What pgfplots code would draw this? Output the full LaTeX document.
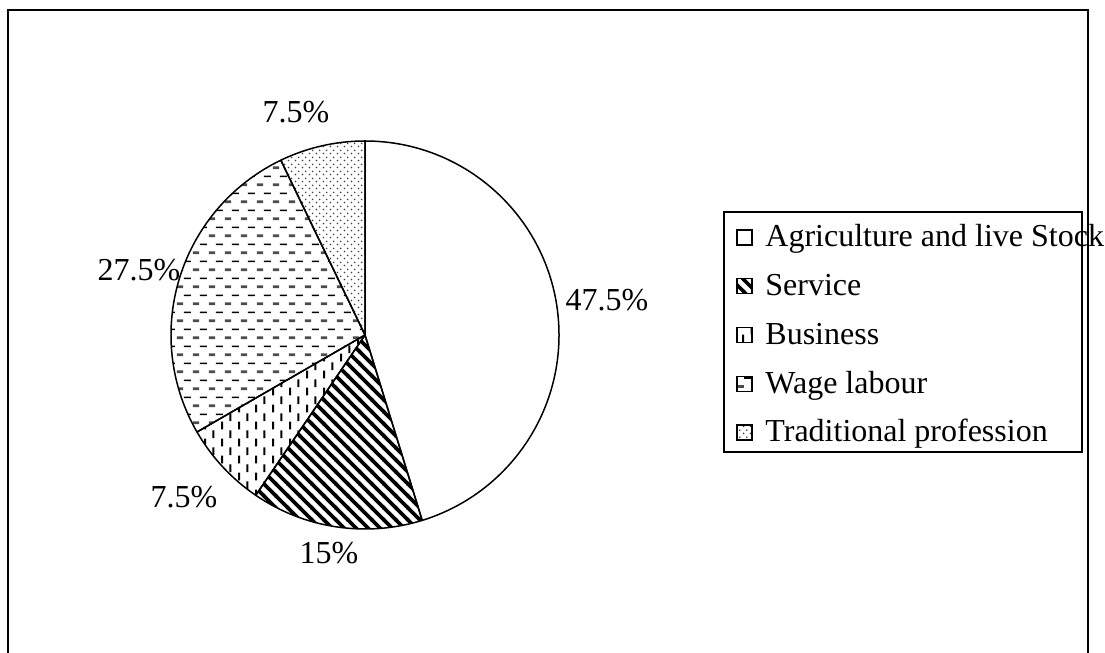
\documentclass[border=0pt]{standalone}
\usepackage{pgfplots}
\pgfplotsset{compat=1.18}
\usepackage{pgfplotstable}
\usetikzlibrary{patterns,patterns.meta}
\usepackage{fontspec}
\setmainfont{Liberation Serif}

% Patterns
\tikzdeclarepattern{name=svc, type=colored, bottom left={(-1bp,-1bp)}, top right={(7bp,7bp)}, tile size={(6bp,6bp)},
  code={\draw[line width=1.8bp,black] (-1bp,7bp) -- (7bp,-1bp);}}
\tikzdeclarepattern{name=bus, type=colored, bottom left={(0bp,0bp)}, top right={(8.4bp,8.6bp)}, tile size={(8.4bp,8.6bp)},
  code={\draw[line width=1bp,black] (2.1bp,0.3bp) -- (2.1bp,4.3bp);
        \draw[line width=1bp,black] (6.3bp,4.6bp) -- (6.3bp,8.6bp);}}
\tikzdeclarepattern{name=wag, type=colored, bottom left={(0bp,0bp)}, top right={(8bp,8.7bp)}, tile size={(8bp,8.7bp)},
  code={\draw[line width=1.4bp,black!70] (0.4bp,2.2bp) -- (3.8bp,2.2bp);
        \draw[line width=0.7bp,black] (4.2bp,6.55bp) -- (7.9bp,6.55bp);}}
\tikzdeclarepattern{name=dts, type=colored, bottom left={(0bp,0bp)}, top right={(3.5bp,3.5bp)}, tile size={(3.5bp,3.5bp)},
  code={\fill[black!75] (0.875bp,0.875bp) circle[radius=0.5bp];
        \fill[black!75] (2.625bp,2.625bp) circle[radius=0.5bp];}}

\tikzset{
  s0/.style={fill=white},
  s1/.style={pattern=svc},
  s2/.style={pattern=bus},
  s3/.style={pattern=wag},
  s4/.style={pattern=dts},
  lab/.style={font=\fontsize{16bp}{19bp}\selectfont, inner sep=0pt},
}

% value = share in percent; lx, ly = position of its percentage label (pixels, y down)
\pgfplotstableread{
value lx ly
47.5 607 300
15   329 553
7.5  184 497
27.5 139 270
7.5  296 112
}\piedata

\def\pietotal{0}
\pgfplotsforeachungrouped \i in {0,...,4}{%
  \pgfplotstablegetelem{\i}{value}\of\piedata
  \pgfmathsetmacro\pietotal{\pietotal+\pgfplotsretval}%
  \xdef\pietotal{\pietotal}%
}
\def\piecum{0}
\pgfplotsforeachungrouped \i in {0,...,4}{%
  \pgfplotstablegetelem{\i}{value}\of\piedata
  \pgfmathsetmacro\sa{90-\piecum/\pietotal*360}%
  \pgfmathsetmacro\piecum{\piecum+\pgfplotsretval}%
  \xdef\piecum{\piecum}%
  \pgfmathsetmacro\ea{90-\piecum/\pietotal*360}%
  \expandafter\xdef\csname piesa\i\endcsname{\sa}%
  \expandafter\xdef\csname pieea\i\endcsname{\ea}%
  \pgfplotstablegetelem{\i}{value}\of\piedata
  \expandafter\xdef\csname pieval\i\endcsname{\pgfplotsretval}%
  \pgfplotstablegetelem{\i}{lx}\of\piedata
  \expandafter\xdef\csname pielx\i\endcsname{\pgfplotsretval}%
  \pgfplotstablegetelem{\i}{ly}\of\piedata
  \pgfmathsetmacro\tmp{652-\pgfplotsretval}%
  \expandafter\xdef\csname piely\i\endcsname{\tmp}%
}

\begin{document}
\begin{tikzpicture}
\begin{axis}[x=0.5bp, y=0.5bp, xmin=0, xmax=1105, ymin=0, ymax=652,
  hide axis, clip=false]
  % outer frame (open at bottom)
  \draw[line width=1bp] (axis cs:7.5,-10) -- (axis cs:7.5,641.5) -- (axis cs:1088,641.5) -- (axis cs:1088,-10);
  % pie slices
  \pgfplotsinvokeforeach{0,...,4}{
    \edef\temp{\noexpand\filldraw[s#1, draw=black, line width=0.75bp, line join=round]
      (axis cs:365,317) -- ++(\csname piesa#1\endcsname:97bp)
      arc[start angle=\csname piesa#1\endcsname, end angle=\csname pieea#1\endcsname, radius=97bp] -- cycle;}
    \temp
    \edef\temp{\noexpand\node[lab] at (axis cs:\csname pielx#1\endcsname,\csname piely#1\endcsname)
      {\noexpand\pgfmathprintnumber[fixed,precision=1,assume math mode=true]{\csname pieval#1\endcsname}\noexpand\%};}
    \temp
  }
  % legend
  \draw[line width=0.75bp] (axis cs:724,440) rectangle (axis cs:1082,200);
  \node[lab, anchor=base west] at (axis cs:765,405) {Agriculture and live Stock};
  \node[lab, anchor=base west] at (axis cs:765,356.25) {Service};
  \node[lab, anchor=base west] at (axis cs:765,307.5) {Business};
  \node[lab, anchor=base west] at (axis cs:765,258.75) {Wage labour};
  \node[lab, anchor=base west] at (axis cs:765,210) {Traditional profession};
  \filldraw[s0, draw=black, line width=0.6bp] (axis cs:737,407) rectangle (axis cs:752,422);
  \filldraw[s1, draw=black, line width=0.6bp] (axis cs:737,358.25) rectangle (axis cs:752,373.25);
  \filldraw[s2, draw=black, line width=0.6bp] (axis cs:737,309.5) rectangle (axis cs:752,324.5);
  \filldraw[s3, draw=black, line width=0.6bp] (axis cs:737,260.75) rectangle (axis cs:752,275.75);
  \filldraw[s4, draw=black, line width=0.6bp] (axis cs:737,212) rectangle (axis cs:752,227);
\end{axis}
\pgfresetboundingbox
\path (current axis.south west) rectangle (current axis.north east);
\end{tikzpicture}
\end{document}
